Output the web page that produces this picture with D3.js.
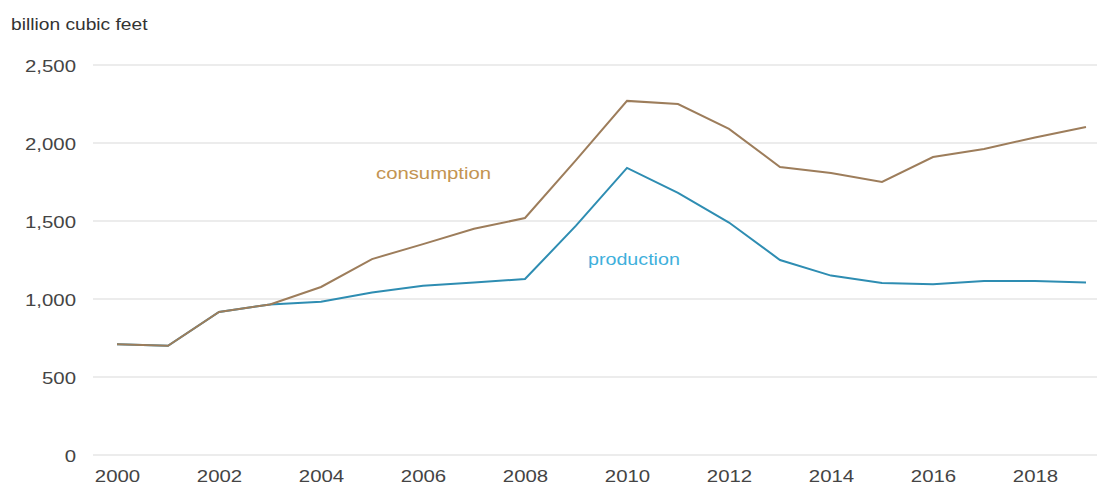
<!DOCTYPE html>
<html>
<head>
<meta charset="utf-8">
<script src="https://d3js.org/d3.v7.min.js"></script>
<style>
  body { margin: 0; background: #fff; }
  text { font-family: "Liberation Sans", Arial, sans-serif; }
</style>
</head>
<body>
<script>
// data
const years = d3.range(2000, 2020);
const consumption = [710, 700, 917, 965, 1077, 1256, 1352, 1450, 1519, 1890,
                     2270, 2250, 2090, 1846, 1808, 1750, 1910, 1962, 2035, 2103];
const production  = [710, 700, 917, 965, 982, 1042, 1085, 1105, 1128, 1470,
                     1840, 1680, 1490, 1250, 1150, 1103, 1095, 1115, 1115, 1105];
const yTicks = [0, 500, 1000, 1500, 2000, 2500];
const xTicks = [2000, 2002, 2004, 2006, 2008, 2010, 2012, 2014, 2016, 2018];

const width = 1097, height = 487;
const sx = 1.2; // glyphs in the picture are stretched sideways

const svg = d3.select('body').append('svg')
    .attr('width', width).attr('height', height);

const x = d3.scaleLinear().domain([2000, 2019]).range([117, 1086]);
const y = d3.scaleLinear().domain([0, 2500]).range([455, 65]);

// grid lines
svg.append('g').selectAll('line')
    .data(yTicks)
    .join('line')
    .attr('x1', 93).attr('x2', width)
    .attr('y1', d => y(d)).attr('y2', d => y(d))
    .attr('stroke', '#e6e6e6').attr('stroke-width', 1.5);

// y labels
svg.append('g').selectAll('text')
    .data(yTicks)
    .join('text')
    .attr('transform', d => `translate(76,${y(d) + 1}) scale(${sx},1)`)
    .attr('dy', '0.35em')
    .attr('text-anchor', 'end')
    .attr('font-size', 17)
    .attr('fill', '#444')
    .text(d3.format(','));

// x axis labels
const xAxis = d3.axisBottom(x).tickValues(xTicks).tickFormat(d3.format('d')).tickSize(0);
const gx = svg.append('g').attr('transform', 'translate(0,467)').call(xAxis);
gx.select('.domain').remove();
gx.selectAll('text')
    .attr('font-size', 17)
    .attr('font-family', '"Liberation Sans", Arial, sans-serif')
    .attr('fill', '#444')
    .attr('transform', `scale(${sx},1)`);

// unit label
svg.append('text')
    .attr('transform', `translate(11,30) scale(${sx},1)`)
    .attr('font-size', 16)
    .attr('fill', '#333')
    .text('billion cubic feet');

const line = d3.line()
    .x((d, i) => x(years[i]))
    .y(d => y(d));

svg.append('path')
    .datum(production)
    .attr('fill', 'none')
    .attr('stroke', '#2e8db2')
    .attr('stroke-width', 2)
    .attr('d', line);

svg.append('path')
    .datum(consumption)
    .attr('fill', 'none')
    .attr('stroke', '#9d7d5b')
    .attr('stroke-width', 2)
    .attr('d', line);

// series labels
svg.append('text')
    .attr('transform', `translate(376,179) scale(1.27,1)`)
    .attr('font-size', 16)
    .attr('fill', '#c39451')
    .text('consumption');

svg.append('text')
    .attr('transform', `translate(588,265) scale(1.23,1)`)
    .attr('font-size', 16)
    .attr('fill', '#3fb0dc')
    .text('production');
</script>
</body>
</html>
